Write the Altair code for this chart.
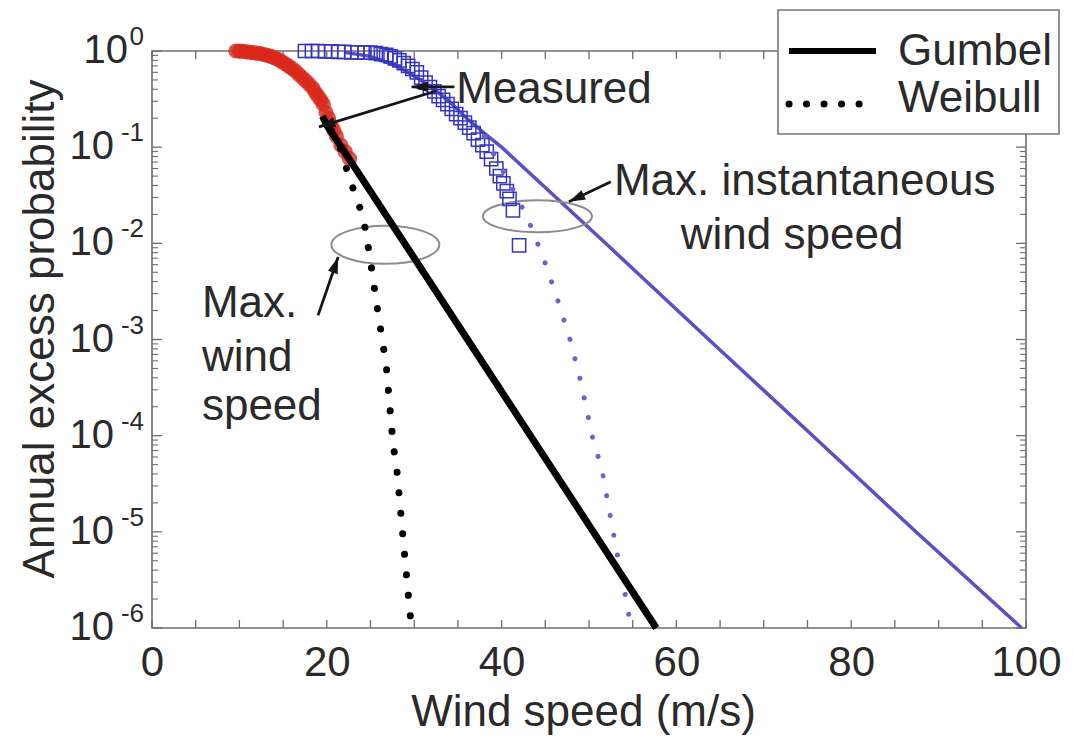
import altair as alt
import pandas as pd

# ---------------- data ----------------
# Measured annual maxima of (10-min mean) wind speed  (red circles)
red_x = [9.6, 10.0, 10.4, 10.8, 11.2, 11.6, 12.0, 12.4, 12.8, 13.2, 13.6, 14.0, 14.4, 14.8,
         15.2, 15.6, 16.0, 16.4, 16.8, 17.2, 17.6, 18.0, 18.4, 18.7, 19.0, 19.3, 19.6, 19.9,
         20.2, 20.5, 20.8, 21.1, 21.6, 22.1, 22.6]
red_p = [1.0, 1.0, 0.99, 0.98, 0.97, 0.96, 0.95, 0.94, 0.92, 0.90, 0.88, 0.85, 0.82, 0.78,
         0.74, 0.70, 0.66, 0.62, 0.57, 0.53, 0.49, 0.45, 0.41, 0.37, 0.34, 0.31, 0.28, 0.23,
         0.20, 0.17, 0.15, 0.13, 0.105, 0.09, 0.076]

# Measured annual maxima of instantaneous wind speed (blue squares)
blue_x = [17.5, 18.3, 19.0, 19.8, 20.5, 21.3, 22.0, 22.8, 23.5, 24.3, 25.0, 25.6, 26.2, 26.8,
          27.3, 27.8, 28.3, 28.8, 29.3, 29.8, 30.3, 30.8, 31.3, 31.8, 32.3, 32.8, 33.3, 33.8,
          34.3, 34.8, 35.3, 35.8, 36.3, 36.8, 37.3, 37.8, 38.3, 38.8, 39.4, 39.8, 40.2, 40.6,
          40.9, 41.3, 42.0]
blue_p = [1.0, 1.0, 1.0, 0.99, 0.99, 0.98, 0.98, 0.97, 0.97, 0.96, 0.96, 0.95, 0.93, 0.91,
          0.88, 0.84, 0.80, 0.75, 0.70, 0.65, 0.60, 0.53, 0.47, 0.42, 0.38, 0.34, 0.31, 0.28,
          0.25, 0.22, 0.20, 0.18, 0.16, 0.14, 0.12, 0.105, 0.09, 0.075, 0.06, 0.05, 0.042, 0.035,
          0.029, 0.022, 0.0095]

# Fitted distributions
gumbel_max_x = [19.5, 20.0, 28.9, 36.1, 43.3, 50.5, 57.7]
gumbel_max_p = [0.21, 0.17, 1e-2, 1e-3, 1e-4, 1e-5, 1e-6]

weibull_max_x = [20.5, 21.5, 22.6, 23.5, 24.2, 24.9, 25.6, 26.2, 26.8, 27.3, 27.6, 28.0,
                 28.6, 29.1, 29.5, 29.7]
weibull_max_p = [0.15, 0.10, 0.047, 0.028, 0.018, 0.0075, 0.0027, 0.0012, 5.4e-4, 1.6e-4,
                 7.9e-5, 4.6e-5, 1.15e-5, 3.7e-6, 1.5e-6, 1e-6]

gumbel_inst_x = [22.0, 25.0, 28.0, 30.0, 32.0, 34.0, 36.0, 38.0, 40.0, 51.9, 63.7, 75.6, 87.4, 99.5]
gumbel_inst_p = [0.97, 0.88, 0.70, 0.55, 0.42, 0.30, 0.20, 0.14, 0.10, 1e-2, 1e-3, 1e-4, 1e-5, 1e-6]

weibull_inst_x = [38.0, 40.0, 41.7, 43.0, 43.9, 44.9, 46.4, 47.9, 49.1, 50.6, 51.4, 52.3,
                  53.1, 54.5, 54.7]
weibull_inst_p = [0.13, 0.06, 0.031, 0.018, 0.0112, 0.0066, 0.0026, 9.5e-4, 3.5e-4, 7.9e-5,
                  4.9e-5, 1.7e-5, 6.8e-6, 1.5e-6, 1e-6]

# Axis ticks / labels
x_label_values = [0, 20, 40, 60, 80, 100]
x_tick_values = [0, 5, 10, 15, 20, 25, 30, 35, 40, 45, 50, 55, 60, 65, 70, 75, 80, 85, 90, 95, 100]
y_major_values = [1e-6, 1e-5, 1e-4, 1e-3, 1e-2, 1e-1, 1.0]
y_exponents = ["-6", "-5", "-4", "-3", "-2", "-1", "0"]
y_minor_mult = [2, 3, 4, 5, 6, 7, 8, 9]

# Annotations
annot_text = ["Measured", "Max. instantaneous", "wind speed", "Max.", "wind", "speed"]
annot_x = [34.8, 52.85, 60.5, 5.71, 5.71, 5.71]
annot_p = [0.288, 0.032, 0.0088, 0.00173, 4.75e-4, 1.47e-4]

arrow_x0 = [34.6, 32.5, 52.5, 19.0]
arrow_p0 = [0.423, 0.384, 0.0436, 0.00178]
arrow_x1 = [29.7, 19.1, 47.7, 21.3]
arrow_p1 = [0.423, 0.1625, 0.027, 0.00721]
arrow_angle = [270, 253, 244.5, 18.9]

ellipse_x = [26.7, 44.1]
ellipse_p = [0.00966, 0.0191]

legend_labels = ["Gumbel", "Weibull"]

# ---------------- styling ----------------
W, H = 874, 577
FONT = "Liberation Sans"
TXT = "#2a2a2a"
FRAME = "#6e6e6e"

xs = alt.Scale(domain=[0, 100], nice=False, zero=False)
ys = alt.Scale(type="log", domain=[1e-6, 1], nice=False)

x_axis = alt.Axis(values=x_label_values, labelFontSize=42, labelFont=FONT, labelColor=TXT,
                  labelPadding=47, labelBaseline="alphabetic", ticks=False, tickSize=0,
                  domain=False, grid=False, labelFlush=False, labelOverlap=False,
                  title="Wind speed (m/s)", titleFont=FONT, titleFontSize=44,
                  titleFontWeight="normal", titleColor=TXT, titleBaseline="alphabetic",
                  titleY=97, titleX=W / 2 - 6)
y_axis = alt.Axis(labels=False, ticks=False, tickSize=0, domain=False, grid=False,
                  title="Annual excess probability", titleFont=FONT, titleFontSize=44,
                  titleFontWeight="normal", titleColor=TXT, titleAngle=270,
                  titleBaseline="alphabetic", titleAlign="center", titleX=-99, titleY=H / 2 - 11)


def X(f="x"):
    return alt.X(f"{f}:Q", scale=xs, axis=x_axis)


def Y(f="p"):
    return alt.Y(f"{f}:Q", scale=ys, axis=y_axis)


one = pd.DataFrame({"a": [0]})

# ---------------- ticks ----------------
xt = pd.DataFrame({"x": x_tick_values})
ticks_bottom = alt.Chart(xt).mark_rule(color=FRAME, strokeWidth=1.3).encode(
    x=X(), y=alt.value(H), y2=alt.value(H - 8))
ticks_top = alt.Chart(xt).mark_rule(color=FRAME, strokeWidth=1.3).encode(
    x=X(), y=alt.value(0), y2=alt.value(8))

ymaj = pd.DataFrame({"p": y_major_values})
ymin = pd.DataFrame({"p": [m * v for v in y_major_values[:-1] for m in y_minor_mult]})
yt_major_l = alt.Chart(ymaj).mark_rule(color=FRAME, strokeWidth=1.3).encode(
    y=Y(), x=alt.value(0), x2=alt.value(10))
yt_major_r = alt.Chart(ymaj).mark_rule(color=FRAME, strokeWidth=1.3).encode(
    y=Y(), x=alt.value(W), x2=alt.value(W - 10))
yt_minor_l = alt.Chart(ymin).mark_rule(color=FRAME, strokeWidth=1.1).encode(
    y=Y(), x=alt.value(0), x2=alt.value(6))
yt_minor_r = alt.Chart(ymin).mark_rule(color=FRAME, strokeWidth=1.1).encode(
    y=Y(), x=alt.value(W), x2=alt.value(W - 6))

# y tick labels as 10 + superscript exponent
ylab = pd.DataFrame({"p": y_major_values, "e": y_exponents})
ylab_exp = alt.Chart(ylab).mark_text(align="right", baseline="middle", font=FONT, fontSize=26,
                                     color=TXT, dy=-14).encode(
    x=alt.value(-8), y=Y(), text="e:N")
ylab_ten0 = alt.Chart(ylab).transform_filter("datum.e == '0'").mark_text(
    align="right", baseline="middle", font=FONT, fontSize=40, color=TXT).encode(
    x=alt.value(-24), y=Y(), text=alt.value("10"))
ylab_tenn = alt.Chart(ylab).transform_filter("datum.e != '0'").mark_text(
    align="right", baseline="middle", font=FONT, fontSize=40, color=TXT).encode(
    x=alt.value(-38), y=Y(), text=alt.value("10"))

# ---------------- data marks ----------------
red_df = pd.DataFrame({"x": red_x, "p": red_p})
blue_df = pd.DataFrame({"x": blue_x, "p": blue_p})

red_pts = alt.Chart(red_df).mark_circle(size=230, color="#d8281c", opacity=0.8).encode(x=X(), y=Y())
blue_pts = alt.Chart(blue_df).mark_point(shape="square", size=175, filled=False, color="#3535c0",
                                         strokeWidth=1.5, opacity=1).encode(x=X(), y=Y())


def line(xv, pv, **kw):
    d = pd.DataFrame({"x": xv, "p": pv, "o": list(range(len(xv)))})
    return alt.Chart(d).mark_line(**kw).encode(x=X(), y=Y(), order="o:Q")


gum_inst = line(gumbel_inst_x, gumbel_inst_p, color="#5a4fc8", strokeWidth=3.5)
wei_inst = line(weibull_inst_x, weibull_inst_p, color="#6464d2", strokeWidth=5,
                strokeDash=[0.1, 20], strokeCap="round")
gum_max = line(gumbel_max_x, gumbel_max_p, color="#000000", strokeWidth=7)
wei_max = line(weibull_max_x, weibull_max_p, color="#000000", strokeWidth=7,
               strokeDash=[0.1, 20.5], strokeCap="round")

# ---------------- annotations ----------------
ell_red = alt.Chart(pd.DataFrame({"x": ellipse_x[:1], "p": ellipse_p[:1]})).mark_point(
    shape="M-1,0C-1,-0.194,-0.552,-0.352,0,-0.352C0.552,-0.352,1,-0.194,1,0C1,0.194,0.552,0.352,0,0.352C-0.552,0.352,-1,0.194,-1,0Z",
    size=11664, filled=False, color="#8c8c8c", strokeWidth=2, opacity=1).encode(x=X(), y=Y())
ell_blue = alt.Chart(pd.DataFrame({"x": ellipse_x[1:], "p": ellipse_p[1:]})).mark_point(
    shape="M-1,0C-1,-0.162,-0.552,-0.294,0,-0.294C0.552,-0.294,1,-0.162,1,0C1,0.162,0.552,0.294,0,0.294C-0.552,0.294,-1,0.162,-1,0Z",
    size=11881, filled=False, color="#8c8c8c", strokeWidth=2, opacity=1).encode(x=X(), y=Y())

arr_df = pd.DataFrame({"x": arrow_x0, "p": arrow_p0, "x2": arrow_x1, "p2": arrow_p1,
                       "ang": arrow_angle})
arr_lines = alt.Chart(arr_df).mark_rule(color="#151515", strokeWidth=2.8).encode(
    x=X(), y=Y(), x2="x2:Q", y2="p2:Q")
arr_heads = alt.Chart(arr_df).mark_point(shape="M0,0L0.5,1.6L-0.5,1.6Z", size=420, filled=True,
                                         color="#151515", opacity=1).encode(
    x=X("x2"), y=Y("p2"), angle=alt.Angle("ang:Q", scale=None))

ann_df = pd.DataFrame({"x": annot_x, "p": annot_p, "t": annot_text})
ann = alt.Chart(ann_df).mark_text(align="left", baseline="alphabetic", font=FONT, fontSize=44,
                                  color=TXT).encode(x=X(), y=Y(), text="t:N")

# ---------------- legend ----------------
leg_box = alt.Chart(one).mark_rect(fill="white", stroke="#777777", strokeWidth=1.6).encode(
    x=alt.value(626), x2=alt.value(907), y=alt.value(-41), y2=alt.value(83))
leg_solid = alt.Chart(one).mark_rule(color="black", strokeWidth=6).encode(
    x=alt.value(637), x2=alt.value(724), y=alt.value(0))
leg_dot = alt.Chart(one).mark_rule(color="black", strokeWidth=7, strokeDash=[0.1, 17.4],
                                   strokeCap="round").encode(
    x=alt.value(637), x2=alt.value(724), y=alt.value(53))
leg_t1 = alt.Chart(one).mark_text(align="left", baseline="alphabetic", font=FONT, fontSize=44,
                                  color=TXT).encode(x=alt.value(746), y=alt.value(14),
                                                    text=alt.value(legend_labels[0]))
leg_t2 = alt.Chart(one).mark_text(align="left", baseline="alphabetic", font=FONT, fontSize=44,
                                  color=TXT).encode(x=alt.value(746), y=alt.value(61),
                                                    text=alt.value(legend_labels[1]))

chart = alt.layer(
    gum_inst, ticks_bottom, ticks_top, yt_major_l, yt_major_r, yt_minor_l, yt_minor_r,
    ell_red, ell_blue, red_pts, blue_pts, wei_inst, gum_max, wei_max,
    arr_lines, arr_heads, ann, ylab_exp, ylab_ten0, ylab_tenn,
    leg_box, leg_solid, leg_dot, leg_t1, leg_t2,
).properties(
    width=W, height=H,
    autosize=alt.AutoSizeParams(type="none"),
    padding={"left": 144, "top": 43, "right": 39, "bottom": 107},
    background="white",
).configure_view(stroke=FRAME, strokeWidth=1.6)

chart.save("out.html", embed_options={"renderer": "svg", "actions": False})
